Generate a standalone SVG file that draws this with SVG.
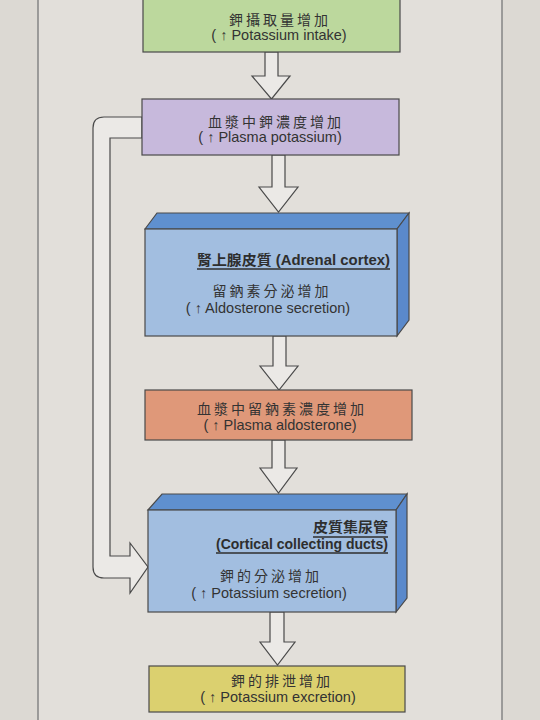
<svg xmlns="http://www.w3.org/2000/svg" width="540" height="720" viewBox="0 0 540 720">
<defs>
<style>
.bg{fill:#dcd9d3}
.frame{stroke:#858585;stroke-width:1.5;fill:none}
.box{stroke:#4a4a4a;stroke-width:1.2}
.arrow{fill:#ebe9e6;stroke:#4a4a4a;stroke-width:1.2;stroke-linejoin:miter}
.zh{font-family:"Liberation Sans","Noto Sans CJK TC",sans-serif;font-size:14px;fill:#333;letter-spacing:3px}
.en{font-family:"Liberation Sans","Noto Sans CJK TC",sans-serif;font-size:14.5px;fill:#333}
.bd{font-family:"Liberation Sans","Noto Sans CJK TC",sans-serif;font-size:14px;font-weight:bold;fill:#2e2e2e}
.ul{stroke:#2e2e2e;stroke-width:1.3}
.front{fill:#a2bee0}
.top{fill:#5f90cf}
.side{fill:#5a89cb}
</style>
</defs>
<rect class="bg" x="0" y="0" width="540" height="720"/>
<rect x="38" y="0" width="464" height="720" fill="#e2dfda"/>
<line class="frame" x1="38" y1="0" x2="38" y2="720"/>
<line class="frame" x1="502" y1="0" x2="502" y2="720"/>

<g id="connectors">
<path class="arrow" d="M265,52 L278,52 L278,76 L290,76 L271.5,99 L252,76 L265,76 Z"/>
<path class="arrow" d="M272,155 L285,155 L285,187 L298,187 L278.5,212 L259,187 L272,187 Z"/>
<path class="arrow" d="M273,336 L286,336 L286,366 L298,366 L279,390 L260,366 L273,366 Z"/>
<path class="arrow" d="M272,440 L285,440 L285,468 L297,468 L278.5,493 L260,468 L272,468 Z"/>
<path class="arrow" d="M270,612 L284,612 L284,642 L295,642 L277.5,665 L260,642 L270,642 Z"/>
<path class="arrow" d="M142,117 L104,117 Q93,117 93,128 L93,567 Q93,578 104,578 L130,578 L130,593 L148,567 L130,543 L130,556 L110,556 L110,138 L142,138 Z"/>
</g>

<g id="node1">
<rect class="box" x="143" y="-2" width="257" height="54" fill="#bcd89d"/>
<text class="zh" x="280" y="25" text-anchor="middle">鉀攝取量增加</text>
<text class="en" x="279" y="40" text-anchor="middle">( ↑ Potassium intake)</text>
</g>

<g id="node2">
<rect class="box" x="142" y="99" width="257" height="56" fill="#c7b9dc"/>
<text class="zh" x="276" y="127" text-anchor="middle">血漿中鉀濃度增加</text>
<text class="en" x="270" y="142" text-anchor="middle">( ↑ Plasma potassium)</text>
</g>

<g id="node3">
<polygon class="box top" points="145,229 157,213 409,213 397,229"/>
<polygon class="box side" points="397,229 409,213 409,320 397,336"/>
<rect class="box front" x="145" y="229" width="252" height="107"/>
<text class="bd" x="197" y="265" textLength="193" lengthAdjust="spacingAndGlyphs">腎上腺皮質 (Adrenal cortex)</text>
<line class="ul" x1="197" y1="269" x2="390" y2="269"/>
<text class="zh" x="272" y="296" text-anchor="middle">留鈉素分泌增加</text>
<text class="en" x="268" y="313" text-anchor="middle">( ↑ Aldosterone secretion)</text>
</g>

<g id="node4">
<rect class="box" x="145" y="390" width="267" height="50" fill="#df9879"/>
<text class="zh" x="282" y="414" text-anchor="middle">血漿中留鈉素濃度增加</text>
<text class="en" x="280" y="430" text-anchor="middle">( ↑ Plasma aldosterone)</text>
</g>

<g id="node5">
<polygon class="box top" points="148,510 162,494 407,494 396,510"/>
<polygon class="box side" points="396,510 407,494 407,598 396,612"/>
<rect class="box front" x="148" y="510" width="248" height="102"/>
<text class="bd" x="313" y="532" textLength="75" lengthAdjust="spacingAndGlyphs">皮質集尿管</text>
<line class="ul" x1="313" y1="537" x2="388" y2="537"/>
<text class="bd" x="216" y="549" textLength="172" lengthAdjust="spacingAndGlyphs">(Cortical collecting ducts)</text>
<line class="ul" x1="216" y1="553" x2="388" y2="553"/>
<text class="zh" x="271" y="581" text-anchor="middle">鉀的分泌增加</text>
<text class="en" x="269" y="598" text-anchor="middle">( ↑ Potassium secretion)</text>
</g>

<g id="node6">
<rect class="box" x="149" y="666" width="256" height="46" fill="#dbd06f"/>
<text class="zh" x="282" y="686" text-anchor="middle">鉀的排泄增加</text>
<text class="en" x="278" y="702" text-anchor="middle">( ↑ Potassium excretion)</text>
</g>
</svg>
